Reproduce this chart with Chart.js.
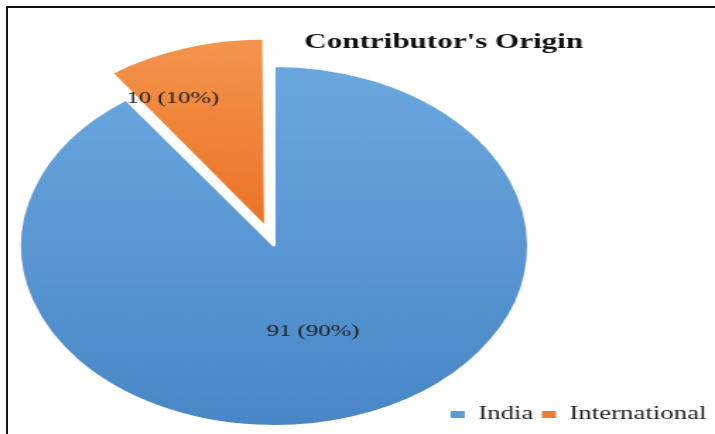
<!DOCTYPE html>
<html>
<head>
<meta charset="utf-8">
<script src="https://cdn.jsdelivr.net/npm/chart.js@4.4.1/dist/chart.umd.min.js"></script>
<style>
  html, body { margin: 0; padding: 0; background: #fff; }
  #wrap { position: relative; width: 715px; height: 434px; overflow: hidden; }
  #grafico { position: absolute; left: 0; top: 0; }
  #moldura { position: absolute; left: 6px; top: 6px; right: 0; bottom: 0;
             border-top: 2px solid #111; border-left: 2px solid #111; pointer-events: none; }
</style>
</head>
<body>
<div id="wrap">
  <!-- o canvas é desenhado estreito e esticado na horizontal, como no original -->
  <canvas id="grafico" width="506" height="434" style="width:715px;height:434px"></canvas>
  <div id="moldura"></div>
</div>
<script>
// Dados
const categorias = ['India', 'International'];
const contribuidores = [91, 10];
const total = contribuidores.reduce((a, b) => a + b, 0);

// Cores (topo / base do degradê, e cor da legenda)
const coresTopo = ['#6ba7df', '#f39650'];
const coresBase = ['#4886c6', '#ec7526'];
const coresLegenda = ['#5b9bd5', '#ed7d31'];

// Posição da pizza e dos rótulos
const PIZZA_X = 194, PIZZA_Y = 246, RAIO = 180;
const rotuloT = [0.5, 0.24];   // fração do ângulo da fatia
const rotuloF = [0.5, 0.8];    // fração do raio

function degrade(c) {
  const area = c.chart.chartArea;
  const i = c.dataIndex;
  if (!area) return coresLegenda[i];
  const cy = (area.top + area.bottom) / 2;
  const y0 = i === 0 ? cy - RAIO : cy - RAIO - 20;
  const y1 = i === 0 ? cy + RAIO : cy - 10;
  const g = c.chart.ctx.createLinearGradient(0, y0, 0, y1);
  g.addColorStop(0, coresTopo[i]);
  g.addColorStop(1, coresBase[i]);
  return g;
}

const pizzaDeslocada = {
  id: 'pizzaDeslocada',
  beforeDatasetsDraw(chart) {
    const arco = chart.getDatasetMeta(0).data[0];
    chart.ctx.save();
    chart.ctx.translate(PIZZA_X - arco.x, PIZZA_Y - arco.y);
  },
  afterDatasetsDraw(chart) {
    const ctx = chart.ctx;
    ctx.font = '17.5px "Liberation Serif"';
    ctx.fillStyle = '#1e1e1e';
    ctx.textAlign = 'center';
    ctx.textBaseline = 'middle';
    chart.getDatasetMeta(0).data.forEach((arco, i) => {
      const { x, y, startAngle, endAngle, outerRadius } = arco;
      const meio = (startAngle + endAngle) / 2;
      const desl = (arco.options.offset || 0) / 4;
      const a = startAngle + rotuloT[i] * (endAngle - startAngle);
      const r = outerRadius * rotuloF[i];
      const px = x + Math.cos(meio) * desl + Math.cos(a) * r;
      const py = y + Math.sin(meio) * desl + Math.sin(a) * r;
      const pct = Math.round(contribuidores[i] / total * 100);
      ctx.fillText(contribuidores[i] + ' (' + pct + '%)', px, py);
    });
    ctx.restore();
  }
};

new Chart(document.getElementById('grafico'), {
  type: 'pie',
  data: {
    labels: categorias,
    datasets: [{
      data: contribuidores,
      backgroundColor: degrade,
      borderColor: '#fff',
      borderWidth: 2,
      offset: [0, 80],
      radius: RAIO,
      clip: false
    }]
  },
  options: {
    responsive: false,
    animation: false,
    layout: { padding: { left: 122 } },
    plugins: {
      title: {
        display: true,
        text: "Contributor's Origin",
        color: '#111',
        font: { family: 'Liberation Serif', size: 22, weight: 'bold' },
        padding: { top: 29, bottom: 4 }
      },
      legend: {
        position: 'bottom',
        align: 'end',
        labels: {
          boxWidth: 10,
          boxHeight: 7,
          padding: 6,
          color: '#222',
          font: { family: 'Liberation Serif', size: 19 },
          generateLabels(chart) {
            return categorias.map((nome, i) => ({
              text: nome,
              fillStyle: coresLegenda[i],
              strokeStyle: coresLegenda[i],
              lineWidth: 0,
              fontColor: '#222',
              index: i,
              hidden: false
            }));
          }
        }
      },
      tooltip: { enabled: false }
    }
  },
  plugins: [pizzaDeslocada]
});
</script>
</body>
</html>
